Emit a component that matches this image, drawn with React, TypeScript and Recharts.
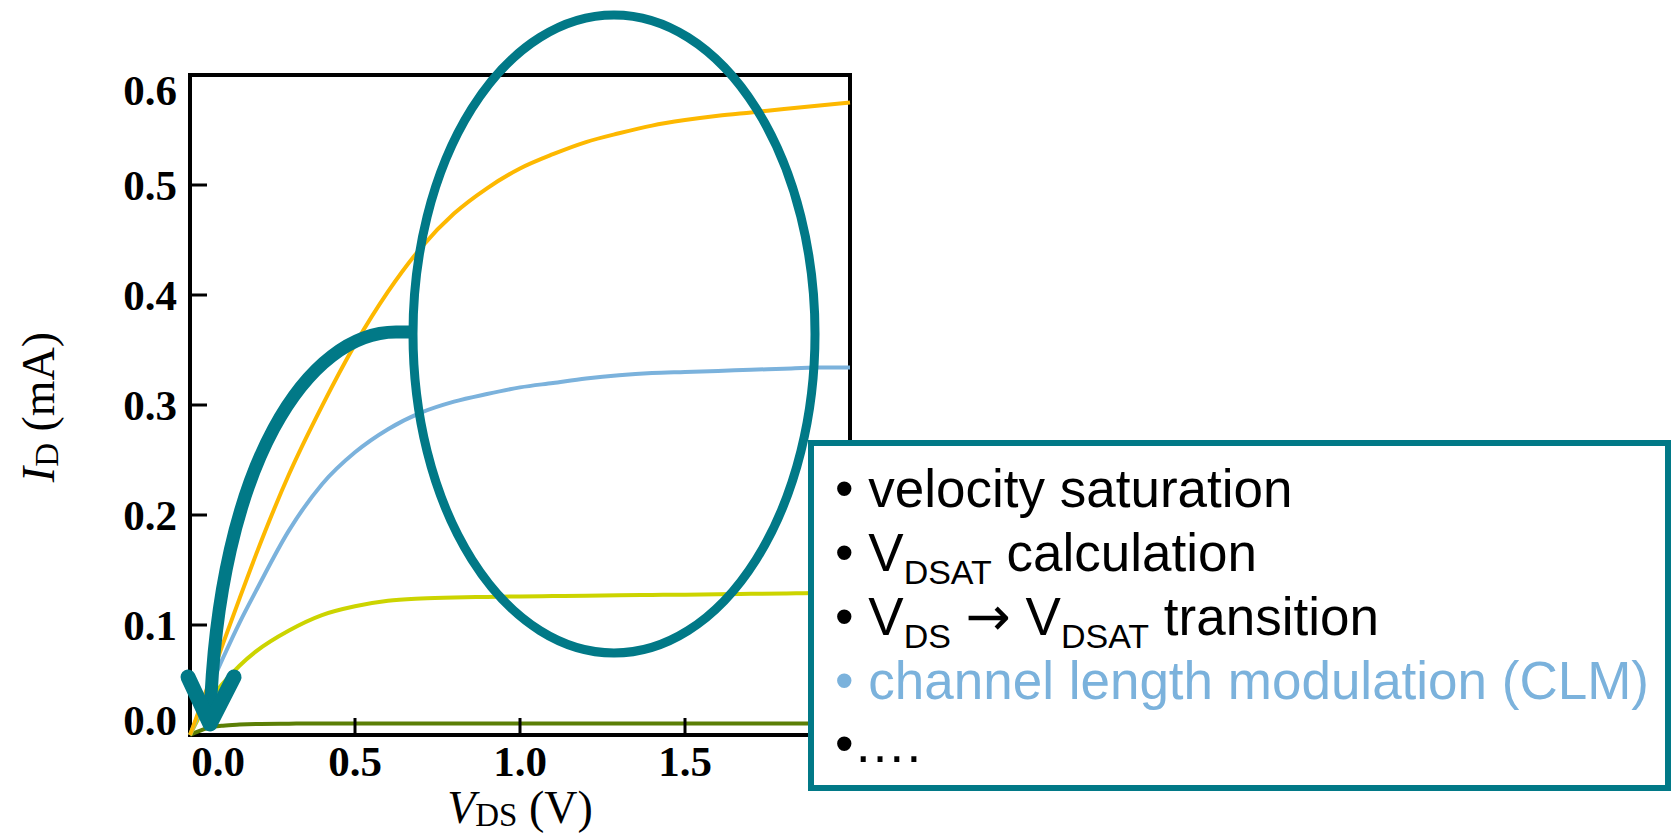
import React from "react";
import {
  LineChart,
  Line,
  XAxis,
  YAxis,
  ReferenceArea,
} from "recharts";

// drain voltage (V) and drain current (mA)
const vds = [0, 0.05, 0.1, 0.15, 0.2, 0.3, 0.4, 0.5, 0.6, 0.7, 0.8, 0.9, 1.0, 1.1, 1.2, 1.3, 1.4, 1.5, 1.6, 1.7, 1.8, 1.9, 2.0];
const idHigh = [0, 0.041, 0.083, 0.124, 0.164, 0.237, 0.299, 0.355, 0.403, 0.443, 0.474, 0.497, 0.515, 0.528, 0.539, 0.547, 0.554, 0.559, 0.563, 0.566, 0.569, 0.572, 0.575];
const idMid = [0, 0.036, 0.07, 0.102, 0.131, 0.186, 0.228, 0.257, 0.278, 0.293, 0.303, 0.31, 0.316, 0.32, 0.324, 0.327, 0.329, 0.33, 0.331, 0.332, 0.333, 0.334, 0.334];
const idLow = [0, 0.028, 0.047, 0.063, 0.076, 0.095, 0.109, 0.117, 0.122, 0.124, 0.125, 0.1255, 0.126, 0.1263, 0.1266, 0.127, 0.1273, 0.1276, 0.128, 0.1283, 0.1286, 0.129, 0.129];
const idSub = [0, 0.006, 0.0085, 0.0095, 0.01, 0.0103, 0.0105, 0.0105, 0.0105, 0.0105, 0.0105, 0.0105, 0.0105, 0.0105, 0.0105, 0.0105, 0.0105, 0.0105, 0.0105, 0.0105, 0.0105, 0.0105, 0.0105];

const xTicks = [0, 0.5, 1.0, 1.5, 2.0];
const yTicks = [0, 0.1, 0.2, 0.3, 0.4, 0.5, 0.6];

const notes = ["velocity saturation", "calculation", "transition", "channel length modulation (CLM)"];

const data = vds.map((v, i) => ({
  vds: v,
  high: idHigh[i],
  mid: idMid[i],
  low: idLow[i],
  sub: idSub[i],
}));

const TEAL = "#017987";
const serif = "'Liberation Serif', 'Times New Roman', serif";
const sans = "'Liberation Sans', Arial, sans-serif";

function YTick(props: any) {
  const { x, y, payload } = props;
  const v = payload.value;
  const dy = v === 0 ? -15 : v === 0.6 ? 15 : 0;
  return (
    <g>
      {v > 0 && v < 0.6 && (
        <line x1={x} y1={y} x2={x + 17} y2={y} stroke="#000" strokeWidth={3} />
      )}
      <text
        x={x - 13}
        y={y + dy}
        dy="0.34em"
        textAnchor="end"
        fontFamily={serif}
        fontWeight="bold"
        fontSize={43}
        fill="#000"
      >
        {v.toFixed(1)}
      </text>
    </g>
  );
}

function XTick(props: any) {
  const { x, y, payload } = props;
  const v = payload.value;
  const dx = v === 0 ? 28 : 0;
  return (
    <g>
      {v > 0 && v < 2 && (
        <line x1={x} y1={y} x2={x} y2={y - 17} stroke="#000" strokeWidth={3} />
      )}
      <text
        x={x + dx}
        y={y + 26}
        dy="0.34em"
        textAnchor="middle"
        fontFamily={serif}
        fontWeight="bold"
        fontSize={43}
        fill="#000"
      >
        {v.toFixed(1)}
      </text>
    </g>
  );
}

function Overlay() {
  const lineY = [507, 571, 635, 699, 762];
  return (
    <svg
      width={1675}
      height={835}
      style={{ position: "absolute", left: 0, top: 0, pointerEvents: "none" }}
    >
      {/* axis titles */}
      <text
        transform="translate(54 407) rotate(-90)"
        textAnchor="middle"
        fontFamily={serif}
        fontSize={46}
        fill="#000"
      >
        <tspan fontStyle="italic">I</tspan>
        <tspan fontSize={33} dy={4}>D</tspan>
        <tspan dy={-4}> (mA)</tspan>
      </text>
      <text x={520} y={823} textAnchor="middle" fontFamily={serif} fontSize={46} fill="#000">
        <tspan fontStyle="italic">V</tspan>
        <tspan fontSize={33} dy={3}>DS</tspan>
        <tspan dy={-3}> (V)</tspan>
      </text>

      {/* annotation: ellipse and curved arrow */}
      <ellipse cx={614} cy={334} rx={201} ry={319} fill="none" stroke={TEAL} strokeWidth={9} />
      <path
        d="M 413 332 L 396 332 C 310 332 218 460 210 720"
        fill="none"
        stroke={TEAL}
        strokeWidth={13}
      />
      <path
        d="M 188 677 L 210 724 L 234 677"
        fill="none"
        stroke={TEAL}
        strokeWidth={15}
        strokeLinecap="round"
        strokeLinejoin="round"
      />

      {/* notes box */}
      <rect x={811} y={443} width={857} height={345} fill="#fff" stroke={TEAL} strokeWidth={6} />
      <g fontFamily={sans} fontSize={53} fill="#000">
        <text x={835} y={lineY[0]}>• {notes[0]}</text>
        <text x={835} y={lineY[1]}>
          • V<tspan fontSize={34} dy={13}>DSAT</tspan>
          <tspan dy={-13}> {notes[1]}</tspan>
        </text>
        <text x={835} y={lineY[2]}>
          • V<tspan fontSize={34} dy={13}>DS</tspan>
          <tspan dy={-13}> </tspan>
          <tspan fontFamily="'DejaVu Sans', sans-serif" fontSize={54}>→</tspan>
          <tspan> V</tspan>
          <tspan fontSize={34} dy={13}>DSAT</tspan>
          <tspan dy={-13}> {notes[2]}</tspan>
        </text>
        <text x={835} y={lineY[3]} fill="#7BB2DC">• {notes[3]}</text>
        <text x={835} y={lineY[4]}>•….</text>
      </g>
    </svg>
  );
}

export default function App() {
  return (
    <div style={{ position: "absolute", left: 0, top: 0, width: 1675, height: 835, background: "#fff" }}>
      <LineChart
        width={1675}
        height={835}
        data={data}
        margin={{ top: 75, right: 825, bottom: 40, left: 90 }}
      >
        <XAxis
          dataKey="vds"
          type="number"
          domain={[0, 2]}
          ticks={xTicks}
          height={60}
          axisLine={false}
          tickLine={false}
          tickSize={0}
          tickMargin={0}
          tick={<XTick />}
          interval={0}
        />
        <YAxis
          type="number"
          domain={[0, 0.6]}
          ticks={yTicks}
          width={100}
          axisLine={false}
          tickLine={false}
          tickSize={0}
          tickMargin={0}
          tick={<YTick />}
          interval={0}
        />
        <Line type="monotone" dataKey="sub" stroke="#5B7F06" strokeWidth={4} dot={false} isAnimationActive={false} />
        <Line type="monotone" dataKey="low" stroke="#CCD400" strokeWidth={4} dot={false} isAnimationActive={false} />
        <Line type="monotone" dataKey="mid" stroke="#7BB2DC" strokeWidth={4} dot={false} isAnimationActive={false} />
        <Line type="monotone" dataKey="high" stroke="#FDB800" strokeWidth={4} dot={false} isAnimationActive={false} />
        <ReferenceArea x1={0} x2={2} y1={0} y2={0.6} fill="none" stroke="#000" strokeWidth={4} />
      </LineChart>
      <Overlay />
    </div>
  );
}
